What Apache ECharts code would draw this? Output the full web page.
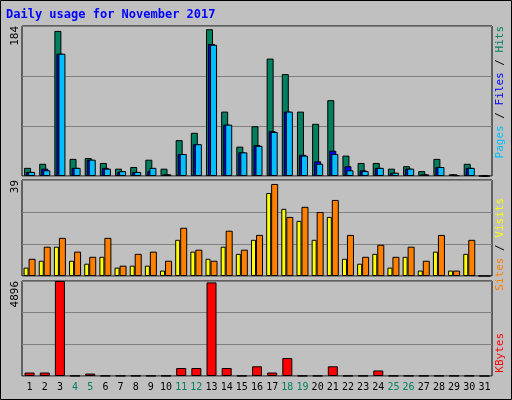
<!DOCTYPE html>
<html>
<head>
<meta charset="utf-8">
<script src="https://cdn.jsdelivr.net/npm/echarts@6/dist/echarts.min.js"></script>
<style>
  html, body { margin: 0; padding: 0; background: #c0c0c0; }
  #chart { width: 512px; height: 400px; }
</style>
</head>
<body>
<div id="chart"></div>
<script>
// daily usage, November 2017
const days = Array.from({ length: 31 }, (_, i) => String(i + 1));
const weekends = ['4', '5', '11', '12', '18', '19', '25', '26'];

const hits  = [10, 15, 178, 21, 22, 16, 9, 11, 20, 9, 44, 53, 180, 79, 36, 61, 144, 125, 79, 64, 93, 25, 16, 16, 9, 12, 6, 21, 2, 15, 0];
const files = [5, 9, 150, 10, 20, 10, 5, 5, 6, 2, 27, 39, 162, 63, 29, 38, 55, 79, 26, 18, 31, 12, 7, 10, 4, 9, 2, 11, 2, 10, 0];
const pages = [5, 7, 150, 10, 20, 9, 6, 5, 10, 2, 27, 39, 161, 63, 29, 37, 54, 79, 25, 15, 27, 7, 6, 10, 4, 9, 2, 11, 1, 10, 0];

const visits = [3.4, 6.2, 11.9, 6.2, 5.0, 7.8, 3.4, 4.2, 4.2, 2.2, 14.7, 9.9, 7.0, 11.9, 9.0, 14.7, 33.7, 27.3, 22.4, 14.7, 24.0, 7.0, 5.0, 9.0, 3.4, 7.8, 2.2, 9.9, 2.2, 9.0, 0];
const sites  = [7.0, 11.9, 15.5, 9.9, 7.8, 15.5, 4.2, 9.0, 9.9, 6.2, 19.6, 10.7, 6.2, 18.4, 10.7, 16.7, 37.4, 24.0, 28.1, 26.0, 30.9, 16.7, 7.8, 12.7, 7.8, 11.9, 6.2, 16.7, 2.2, 14.7, 0];

const kbytes = [178, 178, 4896, 10, 125, 10, 10, 10, 10, 10, 410, 410, 4825, 410, 10, 500, 178, 925, 10, 10, 500, 10, 10, 285, 10, 10, 10, 10, 10, 10, 0];

const maxTop = 184, maxMid = 39, maxBot = 4896;

const FONT = 'DejaVu Sans Mono';
const chart = echarts.init(document.getElementById('chart'));

const grids = [
  { left: 22, width: 470, top: 26, height: 150 },
  { left: 22, width: 470, top: 180, height: 96 },
  { left: 22, width: 470, top: 281, height: 95 }
];

function xAxis(idx, showLabel) {
  return {
    type: 'category', gridIndex: idx, data: days,
    axisLine: { show: false }, axisTick: { show: false },
    axisLabel: {
      show: showLabel, interval: 0, fontFamily: FONT, fontSize: 10, margin: 6,
      color: v => weekends.includes(v) ? '#00805f' : '#000'
    }
  };
}
function yAxis(idx, max) {
  return {
    type: 'value', gridIndex: idx, min: 0, max: max, interval: max / 3,
    axisLabel: { show: false }, axisLine: { show: false }, axisTick: { show: false },
    splitLine: { lineStyle: { color: '#808080', width: 1 } }
  };
}
function bar(name, data, color, idx, width, gap) {
  return {
    name, type: 'bar', data, xAxisIndex: idx, yAxisIndex: idx,
    barWidth: width, barGap: gap, animation: false,
    itemStyle: { color, borderColor: '#000', borderWidth: 1 }
  };
}

function sideText(x, y, parts) {
  return {
    type: 'text', x, y, rotation: Math.PI / 2,
    style: {
      text: parts.map(p => '{' + p[1] + '|' + p[0] + '}').join(''),
      rich: Object.fromEntries(parts.map(p => [p[1], { fill: p[2], fontFamily: FONT, fontSize: 11 }])),
      align: 'right', verticalAlign: 'middle'
    }
  };
}

chart.setOption({
  backgroundColor: '#c0c0c0',
  grid: grids.map(g => Object.assign({ show: true, backgroundColor: '#c0c0c0', borderColor: '#000', borderWidth: 1 }, g)),
  xAxis: [xAxis(0, false), xAxis(1, false), xAxis(2, true)],
  yAxis: [yAxis(0, maxTop), yAxis(1, maxMid), yAxis(2, maxBot)],
  series: [
    bar('Hits', hits, '#00805f', 0, 7, '-71%'),
    bar('Files', files, '#0000ff', 0, 7, '-71%'),
    bar('Pages', pages, '#00bfff', 0, 7, '-71%'),
    bar('Visits', visits, '#ffff00', 1, 5, '0%'),
    bar('Sites', sites, '#ff8000', 1, 7, '0%'),
    bar('KBytes', kbytes, '#ff0000', 2, 10, '0%')
  ],
  graphic: [
    { type: 'rect', shape: { x: 0.5, y: 0.5, width: 511, height: 399 }, style: { fill: 'none', stroke: '#000' } },
    { type: 'text', x: 6, y: 9, style: { text: 'Daily usage for November 2017', fill: '#0000ff', fontFamily: FONT, fontSize: 12, fontWeight: 'bold' } },
    sideText(15, 26, [[String(maxTop), 'a', '#000']]),
    sideText(15, 180, [[String(maxMid), 'a', '#000']]),
    sideText(15, 281, [[String(maxBot), 'a', '#000']]),
    sideText(500, 26, [['Pages', 'p', '#00bfff'], [' / ', 's', '#000'], ['Files', 'f', '#0000ff'], [' / ', 't', '#000'], ['Hits', 'h', '#00805f']]),
    sideText(500, 198, [['Sites', 's1', '#ff8000'], [' / ', 's', '#000'], ['Visits', 'v', '#ffff00']]),
    sideText(500, 333, [['KBytes', 'k', '#ff0000']])
  ]
});
</script>
</body>
</html>
